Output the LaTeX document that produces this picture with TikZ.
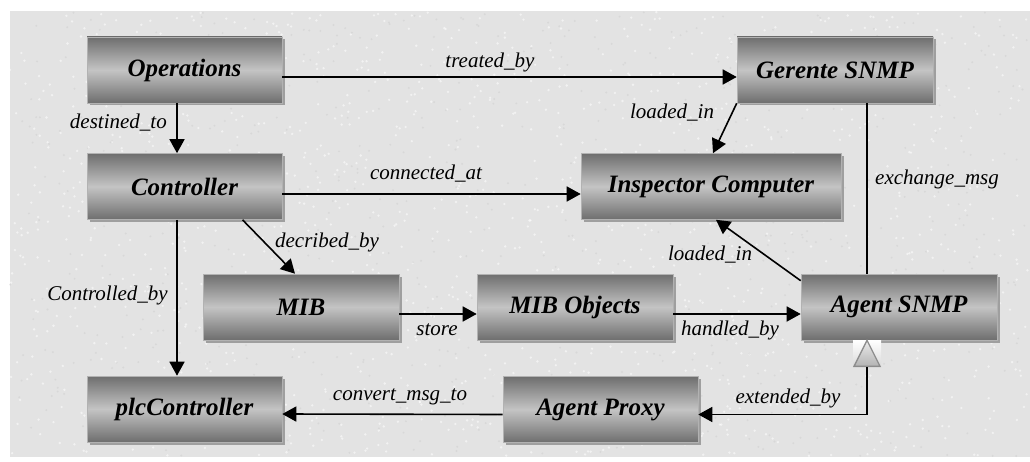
\documentclass[tikz,border=0pt]{standalone}
\usepackage{fontspec}
\setmainfont{Liberation Serif}
\usetikzlibrary{arrows.meta,shadows,calc}
\definecolor{bgc}{HTML}{E3E3E3}
\definecolor{boxdark}{HTML}{6E6E6E}
\definecolor{boxlight}{HTML}{C4C4C4}
\begin{document}
\begin{tikzpicture}[x=1pt,y=-1pt,
  box/.style={draw=gray!60, line width=0.6pt, top color=boxdark, bottom color=boxdark, middle color=boxlight,
    minimum height=66pt, minimum width=195pt, inner sep=0pt,
    font=\fontsize{25}{28}\selectfont\bfseries\itshape,
    drop shadow={shadow xshift=2.5pt, shadow yshift=-2.5pt, fill=gray!75, opacity=1}},
  lbl/.style={font=\fontsize{21}{24}\selectfont\itshape, inner sep=0pt},
  ln/.style={line width=1.6pt},
  arr/.style={ln, -{Triangle[length=14pt,width=15pt]}}]
\useasboundingbox (0,0) rectangle (1030,462);
\fill[white] (0,0) rectangle (1030,462);
\fill[bgc] (10,11) rectangle (1030,457);
\pgfmathsetseed{7}
\foreach \i in {1,...,1400}{\fill[white, opacity=0.55] (10+rnd*1018, 12+rnd*444) circle (1.3);}
\foreach \i in {1,...,700}{\fill[gray!45, opacity=0.35] (10+rnd*1018, 12+rnd*444) circle (1.1);}

% nodes
\node[box] (ops)   at (184.5,70)  {Operations};
\node[box, minimum width=196pt] (ger) at (835,70) {Gerente SNMP};
\node[box] (ctl)   at (184.5,186.5) {Controller};
\node[box, minimum width=260pt] (insp) at (711,186.5) {Inspector Computer};
\node[box, minimum width=196pt] (mib) at (301,307) {MIB};
\node[box, minimum width=196pt] (mibo) at (575,307) {MIB Objects};
\node[box, minimum width=196pt] (agent) at (899,307) {Agent SNMP};
\node[box] (plc)   at (184.5,409) {plcController};
\node[box] (proxy) at (600.5,409.5) {Agent Proxy};

% connectors
\draw[arr] ([yshift=-7pt]ops.east) -- ([yshift=-7pt]ger.west);
\draw[arr] ([xshift=-7.5pt]ops.south) -- ([xshift=-7.5pt]ctl.north);
\draw[arr] (ger.south west) -- ([xshift=2pt]insp.north);
\draw[ln] ([xshift=32pt]ger.south) -- ([xshift=-32pt]agent.north);
\draw[arr] ([yshift=-7.5pt]ctl.east) -- ([yshift=-7.5pt]insp.west);
\draw[arr] ([xshift=58pt]ctl.south) -- ([xshift=-6pt]mib.north);
\draw[arr] ([xshift=-7.5pt]ctl.south) -- ([xshift=-7.5pt]plc.north);
\draw[arr] ([yshift=-7pt]mib.east) -- ([yshift=-7pt]mibo.west);
\draw[arr] ([yshift=-7pt]mibo.east) -- ([yshift=-7pt]agent.west);
\draw[arr] ([yshift=-7pt]agent.north west) -- ([xshift=5pt]insp.south);
\draw[arr] ([yshift=-5pt]proxy.west) -- ([yshift=-5pt]plc.east);

% generalization (extended_by)
\coordinate (tri) at ([xshift=-32pt]agent.south);
\fill[top color=white, bottom color=gray!30] ($(tri)+(-14,0)$) rectangle ($(tri)+(14,27)$);
\draw[draw=gray!90, line width=1.3pt, top color=white!85!gray, bottom color=gray!60]
  (tri) -- ($(tri)+(-13,26)$) -- ($(tri)+(13,26)$) -- cycle;
\draw[arr] ($(tri)+(0,27)$) |- ([yshift=-5pt]proxy.east);

% labels
\node[lbl] (l1) at (490,62) {treated\_by};
\node[lbl, anchor=east] (l2) at (167,123) {destined\_to};
\node[lbl] (l3) at (672,113) {loaded\_in};
\node[lbl, anchor=west] (l4) at (875,179) {exchange\_msg};
\node[lbl] (l5) at (426,174) {connected\_at};
\node[lbl] (l6) at (327,242) {decribed\_by};
\node[lbl, anchor=east] (l7) at (168,295) {Controlled\_by};
\node[lbl] (l8) at (437,330) {store};
\node[lbl] (l9) at (730,330) {handled\_by};
\node[lbl] (l10) at (710,255) {loaded\_in};
\node[lbl] (l11) at (400,397) {convert\_msg\_to};
\node[lbl] (l12) at (788,398) {extended\_by};
\end{tikzpicture}
\end{document}
